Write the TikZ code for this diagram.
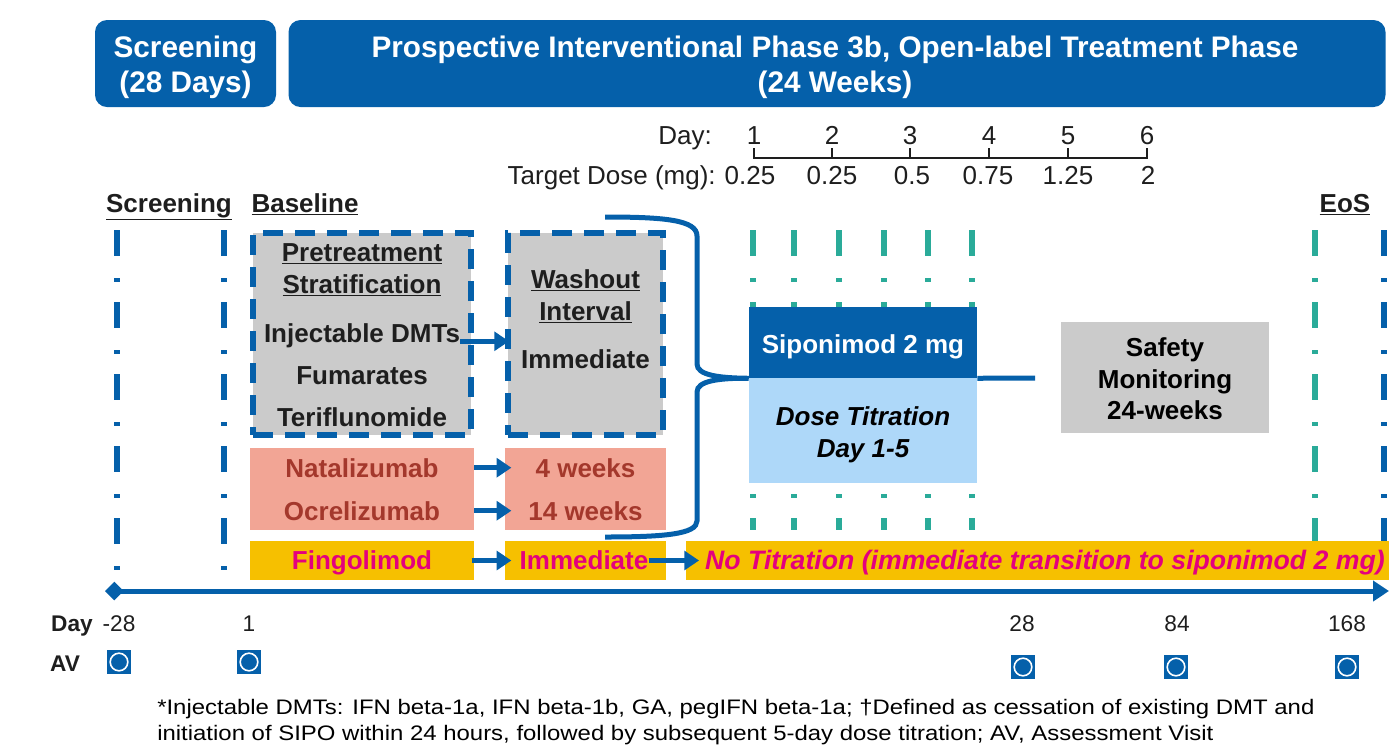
\documentclass[tikz,border=0pt]{standalone}
\usepackage{fontspec}
\setmainfont{Liberation Sans}
\newfontfamily\fnfont[FakeStretch=1.14]{Liberation Sans}
\usetikzlibrary{arrows.meta}
\definecolor{hblue}{HTML}{0560AA}
\definecolor{boxgray}{HTML}{CBCBCB}
\definecolor{salmon}{HTML}{F2A595}
\definecolor{redtxt}{HTML}{A4382C}
\definecolor{ybox}{HTML}{F6C000}
\definecolor{magtxt}{HTML}{E4007E}
\definecolor{lblue}{HTML}{AED8F9}
\definecolor{tealc}{HTML}{2AAB99}
\definecolor{txt}{HTML}{1E1E1E}
\begin{document}
\begin{tikzpicture}[x=0.75pt,y=-0.75pt,
  hdr/.style={fill=hblue, rounded corners=9pt, inner sep=0},
  hdrt/.style={inner sep=0, anchor=base, text=white, font=\bfseries\fontsize{22.3}{26}\selectfont},
  lbl/.style={inner sep=0, anchor=base, text=txt, font=\bfseries\fontsize{19.5}{24}\selectfont},
  reg/.style={inner sep=0, anchor=base, text=txt, font=\fontsize{19.5}{24}\selectfont},
  bot/.style={inner sep=0, anchor=base, text=txt, font=\fontsize{17}{20}\selectfont},
  botb/.style={inner sep=0, anchor=base, text=txt, font=\bfseries\fontsize{17}{20}\selectfont},
  bluevl/.style={draw=hblue, line width=4.5pt, dash pattern=on 19.5pt off 16.5pt on 3pt off 15pt},
  tealvl/.style={draw=tealc, line width=4pt, dash pattern=on 19.5pt off 16.5pt on 3pt off 15pt},
  dbox/.style={draw=hblue, fill=boxgray, line width=4.5pt, dash pattern=on 15pt off 9pt, inner sep=0},
  plain/.style={inner sep=0, draw=none},
  arr/.style={draw=hblue, line width=3.75pt, -{Triangle[length=11pt,width=14pt]}},
  avm/.style={fill=hblue, minimum size=18pt, inner sep=0,
    path picture={\draw[white, line width=1.2pt] (path picture bounding box.center) circle[radius=6.6pt];}},
]
\useasboundingbox (0,0) rectangle (1389,744);

% headers
\node[hdr, minimum width=135.75pt, minimum height=65.25pt] (h1) at (185.5,63.5) {};
\node[hdr, minimum width=822.75pt, minimum height=65.25pt] (h2) at (837,63.5) {};
\node[hdrt] (h1a) at (185.5,57) {Screening};
\node[hdrt] (h1b) at (185.5,92) {(28 Days)};
\node[hdrt] (h2a) at (835,57) {Prospective Interventional Phase 3b, Open-label Treatment Phase};
\node[hdrt] (h2b) at (835,92) {(24 Weeks)};

% day / dose scale
\node[reg, anchor=base east] (dayl) at (712,144) {Day:};
\foreach \i/\x in {1/754,2/832,3/910,4/989,5/1068,6/1147}{
  \node[reg] (d\i) at (\x,144) {\i};
  \draw[line width=1.5pt, txt] (\x,158) -- (\x,148);
}
\draw[line width=1.5pt, txt] (753,158) -- (1148,158);
\node[reg, anchor=base east] (tdl) at (716,184) {Target Dose (mg):};
\foreach \i/\x/\v in {1/750/0.25,2/832/0.25,3/912/0.5,4/988/0.75,5/1068/1.25,6/1148/2}{
  \node[reg] (td\i) at (\x,184) {\v};
}

% phase labels
\node[lbl] (scr) at (169,212) {\underline{Screening}};
\node[lbl] (bas) at (305,212) {\underline{Baseline}};
\node[lbl] (eos) at (1345,212) {\underline{EoS}};

% vertical dash-dot lines
\foreach \x in {117,224,1384} \draw[bluevl] (\x,230) -- (\x,586);
\foreach \x in {753,794,839,884,928,972} \draw[tealvl] (\x,230) -- (\x,530);
\draw[tealvl] (1315,230) -- (1315,586);

% pretreatment and washout boxes
\node[dbox, minimum width=163.5pt, minimum height=151.5pt] (pre) at (362,334) {};
\node[dbox, minimum width=116.25pt, minimum height=151.5pt] (wash) at (585.5,334) {};
\node[lbl] (pt1) at (362,261) {\underline{Pretreatment}};
\node[lbl] (pt2) at (362,293) {\underline{Stratification}};
\node[lbl] (inj) at (362,342) {Injectable DMTs};
\node[lbl] (fum) at (362,384) {Fumarates};
\node[lbl] (ter) at (362,426) {Teriflunomide};
\node[lbl] (wo1) at (585.5,288) {\underline{Washout}};
\node[lbl] (wo2) at (585.5,320) {\underline{Interval}};
\node[lbl] (wo3) at (585.5,368) {Immediate};

% salmon boxes
\node[plain, fill=salmon, minimum width=168pt, minimum height=61.5pt] (sal1) at (362,489) {};
\node[plain, fill=salmon, minimum width=120.75pt, minimum height=61.5pt] (sal2) at (585.5,489) {};
\node[lbl, text=redtxt] (nat) at (362,477) {Natalizumab};
\node[lbl, text=redtxt] (ocr) at (362,520) {Ocrelizumab};
\node[lbl, text=redtxt] (wk4) at (585.5,477) {4 weeks};
\node[lbl, text=redtxt] (wk14) at (585.5,520) {14 weeks};

% yellow boxes
\node[plain, fill=ybox, minimum width=168pt, minimum height=29.25pt] (fingb) at (362,560.5) {};
\node[plain, fill=ybox, minimum width=120.75pt, minimum height=29.25pt] (immb) at (585.5,560.5) {};
\node[plain, fill=ybox, minimum width=527.25pt, minimum height=29.25pt] (notit) at (1037.5,560.5) {};
\node[lbl, text=magtxt] (fingt) at (362,569.5) {Fingolimod};
\node[lbl, text=magtxt] (immt) at (584,569.5) {Immediate};
\node[lbl, text=magtxt, font=\bfseries\itshape\fontsize{20}{24}\selectfont] (notitt) at (1045,569.5)
  {No Titration (immediate transition to siponimod 2 mg)};

% siponimod boxes
\node[plain, fill=hblue, minimum width=171pt, minimum height=53.25pt] (sipod) at (863,342.5) {};
\node[plain, fill=lblue, minimum width=171pt, minimum height=78.75pt] (sipol) at (863,430.5) {};
\node[lbl, text=white] (sipot) at (863,353) {Siponimod 2 mg};
\node[lbl, font=\bfseries\itshape\fontsize{19.5}{24}\selectfont, text=black] (dt1) at (863,425) {Dose Titration};
\node[lbl, font=\bfseries\itshape\fontsize{19.5}{24}\selectfont, text=black] (dt2) at (863,457) {Day 1-5};

% safety monitoring
\node[plain, fill=boxgray, minimum width=156pt, minimum height=83.25pt] (safe) at (1165,377.5) {};
\node[lbl, text=black] (sf1) at (1165,356) {Safety};
\node[lbl, text=black] (sf2) at (1165,388) {Monitoring};
\node[lbl, text=black] (sf3) at (1165,419) {24-weeks};

% arrows
\coordinate (a1) at ([yshift=-4.5pt]inj.east);
\draw[arr, shorten >=-3pt] (a1) -- (a1 -| wash.west);
\draw[arr, shorten >=-5pt] (sal1.east |- nat.center) -- (sal2.west |- nat.center);
\draw[arr, shorten >=-5pt] (sal1.east |- ocr.center) -- (sal2.west |- ocr.center);
\draw[arr, shorten <=-2pt, shorten >=-5pt] (fingb.east) -- (immb.west);
\draw[arr, shorten >=-10pt] (immt.east |- immb.center) -- (notit.west);

% brace
\draw[hblue, line width=3.75pt]
  (605,217) .. controls (665,217) and (697,220) .. (697,236) -- (697,364)
  .. controls (697,375) and (718,378) .. (sipod.south west)
  .. controls (718,378) and (697,381) .. (697,392) -- (697,521)
  .. controls (697,534) and (665,537) .. (605,537);

% siponimod connector
\coordinate (sipoend) at (1035,378);
\draw[hblue, line width=3.75pt] (sipod.south east) -- (sipoend);

% timeline
\coordinate (tl0) at (105,591);
\coordinate (tl1) at (1389,591);
\draw[hblue, line width=3.75pt, {Diamond[length=14pt,width=14pt]}-{Triangle[length=12pt,width=15pt]}] (tl0) -- (tl1);

% day labels
\node[botb] (dayb) at (72,631) {Day};
\node[bot] (m28) at (119,631) {-28};
\node[bot] (p1) at (249,631) {1};
\node[bot] (p28) at (1022,631) {28};
\node[bot] (p84) at (1177,631) {84};
\node[bot] (p168) at (1347,631) {168};
\node[botb] (avl) at (65,671) {AV};
\node[avm] (av1) at (119,662) {};
\node[avm] (av2) at (249,662) {};
\node[avm] (av3) at (1023,667) {};
\node[avm] (av4) at (1176,667) {};
\node[avm] (av5) at (1347,667) {};

% footnote
\node[anchor=base west, inner sep=0, text=black, font=\fnfont\fontsize{15.75}{20}\selectfont] (fn1) at (157,714)
  {*Injectable DMTs: IFN beta-1a, IFN beta-1b, GA, pegIFN beta-1a; †Defined as cessation of existing DMT and};
\node[anchor=base west, inner sep=0, text=black, font=\fnfont\fontsize{15.75}{20}\selectfont] (fn2) at (157,740)
  {initiation of SIPO within 24 hours, followed by subsequent 5-day dose titration; AV, Assessment Visit};
\end{tikzpicture}
\end{document}
